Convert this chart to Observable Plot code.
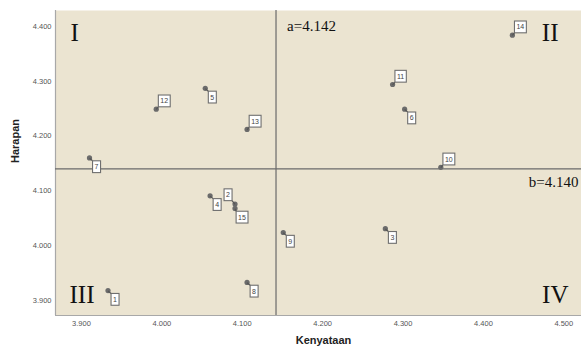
<!DOCTYPE html>
<html><head><meta charset="utf-8">
<script src="https://cdn.jsdelivr.net/npm/d3@7"></script>
<script src="https://cdn.jsdelivr.net/npm/@observablehq/plot@0.6"></script>
<style>body{margin:0;background:#fff;}svg{display:block;}</style>
</head><body><div id="chart"></div>
<script>
// ---- data ----
const ids       = [1, 2, 3, 4, 5, 6, 7, 8, 9, 10, 11, 12, 13, 14, 15];
const kenyataan = [3.933, 4.091, 4.278, 4.060, 4.054, 4.302, 3.910, 4.106, 4.151, 4.347, 4.287, 3.993, 4.106, 4.436, 4.091];
const harapan   = [3.918, 4.076, 4.031, 4.091, 4.287, 4.249, 4.160, 3.933, 4.024, 4.143, 4.294, 4.249, 4.212, 4.384, 4.068];
const xTicks = [3.9, 4.0, 4.1, 4.2, 4.3, 4.4, 4.5];
const yTicks = [3.9, 4.0, 4.1, 4.2, 4.3, 4.4];
const meanKenyataan = 4.142;
const meanHarapan = 4.140;
const quadrantNames = ["I", "II", "III", "IV"];
// label placement (style only)
const labelPlacement = ["dr","ul","dr","dr","dr","dr","dr","dr","dr","ur","ur","ur","ur","ur","dr"];

const xDomain = [3.8677, 4.522];
const yDomain = [3.8726, 4.429];
const offsets = {dr: [7, 9], ur: [8, -8], ul: [-7, -9]};
const placements = Object.keys(offsets);

const points = ids.map((id, i) => ({id, x: kenyataan[i], y: harapan[i], p: labelPlacement[i]}));

const serif = "Liberation Serif, Times New Roman, serif";
const sans = "Liberation Sans, Arial, sans-serif";
const lineColor = "#6a6a6a";
const LABEL_SIZE = 7.01;

const labelMarks = placements.map(p =>
  Plot.text(points.filter(d => d.p === p), {
    x: "x", y: "y", text: d => String(d.id),
    dx: offsets[p][0], dy: offsets[p][1],
    fontSize: LABEL_SIZE, fontFamily: sans, fill: "#444",
    textAnchor: "middle", lineAnchor: "middle"
  })
);

const chart = Plot.plot({
  width: 581, height: 351,
  marginLeft: 55, marginRight: 0, marginTop: 10, marginBottom: 36,
  style: {fontFamily: sans, background: "#fff", overflow: "visible"},
  x: {domain: xDomain, ticks: xTicks, tickFormat: d3.format(".3f"), label: null},
  y: {domain: yDomain, ticks: yTicks, tickFormat: d3.format(".3f"), label: null},
  marks: [
    Plot.frame({fill: "#ebe4d1", stroke: null}),
    Plot.ruleX([xDomain[0]], {stroke: "#a8a8a8", strokeWidth: 1.2}),
    Plot.ruleY([yDomain[0]], {stroke: "#a8a8a8", strokeWidth: 1.2}),
    Plot.axisX({ticks: xTicks, tickFormat: d3.format(".3f"), tickSize: 0, tickPadding: 5, fontSize: 7.5, fill: "#555", label: null}),
    Plot.axisY({ticks: yTicks, tickFormat: d3.format(".3f"), tickSize: 0, tickPadding: 4, fontSize: 7.5, fill: "#555", label: null}),
    Plot.ruleX([meanKenyataan], {stroke: lineColor, strokeWidth: 1.2}),
    Plot.ruleY([meanHarapan], {stroke: lineColor, strokeWidth: 1.2}),
    Plot.text([`a=${meanKenyataan.toFixed(3)}`], {x: [meanKenyataan], text: d => d, frameAnchor: "top", textAnchor: "start", lineAnchor: "top", dx: 11, dy: 10, fontSize: 15, fontFamily: serif, fill: "#111"}),
    Plot.text([`b=${meanHarapan.toFixed(3)}`], {y: [meanHarapan], text: d => d, frameAnchor: "right", textAnchor: "end", lineAnchor: "top", dx: -3, dy: 7, fontSize: 15, fontFamily: serif, fill: "#111"}),
    Plot.text([quadrantNames[0]], {frameAnchor: "top-left", text: d => d, dx: 15, dy: 13, fontSize: 25, fontFamily: serif, fill: "#111"}),
    Plot.text([quadrantNames[1]], {frameAnchor: "top-right", text: d => d, dx: -23, dy: 13, fontSize: 25, fontFamily: serif, fill: "#111"}),
    Plot.text([quadrantNames[2]], {frameAnchor: "bottom-left", text: d => d, dx: 14, dy: -13, fontSize: 25, fontFamily: serif, fill: "#111"}),
    Plot.text([quadrantNames[3]], {frameAnchor: "bottom-right", text: d => d, dx: -13, dy: -13, fontSize: 25, fontFamily: serif, fill: "#111"}),
    Plot.text(["Harapan"], {frameAnchor: "left", text: d => d, rotate: -90, dx: -40, fontSize: 11, fontWeight: "bold", fontFamily: sans, fill: "#222"}),
    Plot.text(["Kenyataan"], {frameAnchor: "bottom", text: d => d, dx: 5, dy: 28, fontSize: 11, fontWeight: "bold", fontFamily: sans, fill: "#222"}),
    Plot.dot(points, {x: "x", y: "y", r: 2.6, fill: "#6b6b6b", stroke: null}),
    ...labelMarks
  ]
});
document.getElementById("chart").append(chart);

// draw boxes and leader ticks behind the point labels
const ns = "http://www.w3.org/2000/svg";
const labelGroups = Array.from(chart.querySelectorAll("g")).filter(g =>
  g.getAttribute("font-size") === String(LABEL_SIZE) && g.querySelector("text"));
labelGroups.forEach((g, gi) => {
  const p = placements[gi];
  if (!p) return;
  const [ox, oy] = offsets[p];
  Array.from(g.querySelectorAll("text")).forEach(t => {
    const bb = t.getBBox();
    const padX = 2, padY = 2.4;
    const rx = bb.x - padX, ry = bb.y - padY, rw = bb.width + 2 * padX, rh = bb.height + 2 * padY;
    const tr = t.getAttribute("transform");
    const ax = parseFloat(t.getAttribute("x") || 0), ay = parseFloat(t.getAttribute("y") || 0);
    const px = ax - ox, py = ay - oy;
    const cx = ox > 0 ? rx : rx + rw, cy = oy > 0 ? ry : ry + rh;
    const line = document.createElementNS(ns, "line");
    line.setAttribute("x1", px); line.setAttribute("y1", py);
    line.setAttribute("x2", cx); line.setAttribute("y2", cy);
    line.setAttribute("stroke", "#555"); line.setAttribute("stroke-width", "1.2");
    const rect = document.createElementNS(ns, "rect");
    rect.setAttribute("x", rx); rect.setAttribute("y", ry);
    rect.setAttribute("width", rw); rect.setAttribute("height", rh);
    rect.setAttribute("fill", "#fff"); rect.setAttribute("stroke", "#6f6f6f"); rect.setAttribute("stroke-width", "1.1");
    if (tr) { line.setAttribute("transform", tr); rect.setAttribute("transform", tr); }
    g.insertBefore(line, t);
    g.insertBefore(rect, t);
  });
});
</script>
</body></html>
